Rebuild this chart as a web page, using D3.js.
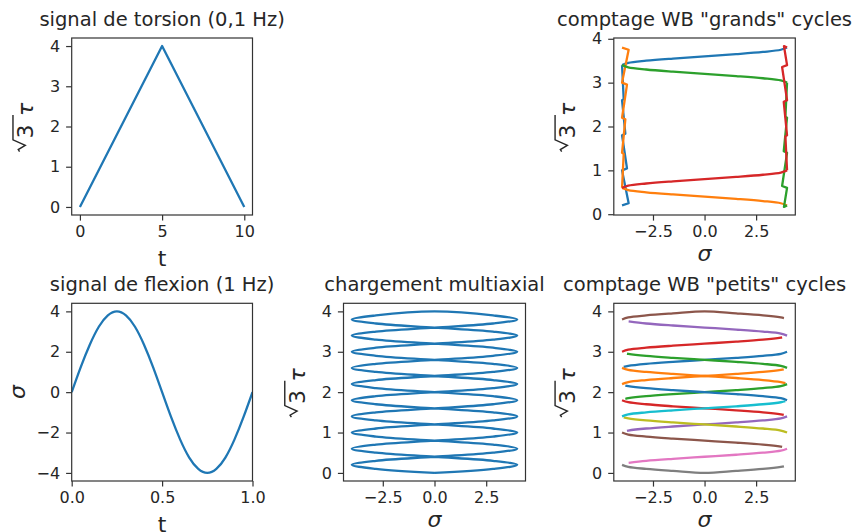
<!DOCTYPE html>
<html><head><meta charset="utf-8">
<script src="https://cdn.jsdelivr.net/npm/d3@7"></script>
<style>
html,body{margin:0;padding:0;background:#fff;}
svg{display:block;font-family:"DejaVu Sans",sans-serif;}
</style></head><body>
<svg id="chart" width="853" height="532"></svg>
<script>
// ---------------- data ----------------
const torsionT = [0, 5, 10];
const torsionTau = [0, 4, 0];

const flexionT = [0,0.05,0.1,0.15,0.2,0.25,0.3,0.35,0.4,0.45,0.5,0.55,0.6,0.65,0.7,0.75,0.8,0.85,0.9,0.95,1];
const flexionSigma = [0,1.24,2.35,3.24,3.8,4,3.8,3.24,2.35,1.24,0,-1.24,-2.35,-3.24,-3.8,-4,-3.8,-3.24,-2.35,-1.24,0];

const multiSigma = [
  0,2.83,4,2.83,0,-2.83,-4,-2.83,
  0,2.83,4,2.83,0,-2.83,-4,-2.83,
  0,2.83,4,2.83,0,-2.83,-4,-2.83,
  0,2.83,4,2.83,0,-2.83,-4,-2.83,
  0,2.83,4,2.83,0,-2.83,-4,-2.83,
  0,2.83,4,2.83,0,-2.83,-4,-2.83,
  0,2.83,4,2.83,0,-2.83,-4,-2.83,
  0,2.83,4,2.83,0,-2.83,-4,-2.83,
  0,2.83,4,2.83,0,-2.83,-4,-2.83,
  0,2.83,4,2.83,0,-2.83,-4,-2.83,
  0];
const multiTau = [
  0,0.1,0.2,0.3,0.4,0.5,0.6,0.7,0.8,0.9,1.0,1.1,1.2,1.3,1.4,1.5,1.6,1.7,1.8,1.9,
  2.0,2.1,2.2,2.3,2.4,2.5,2.6,2.7,2.8,2.9,3.0,3.1,3.2,3.3,3.4,3.5,3.6,3.7,3.8,3.9,
  4.0,
  3.9,3.8,3.7,3.6,3.5,3.4,3.3,3.2,3.1,3.0,2.9,2.8,2.7,2.6,2.5,2.4,2.3,2.2,2.1,2.0,
  1.9,1.8,1.7,1.6,1.5,1.4,1.3,1.2,1.1,1.0,0.9,0.8,0.7,0.6,0.5,0.4,0.3,0.2,0.1,0];

// "grands" cycles: smooth crossing part and jagged edge part, [sigma, sqrt3 tau]
const grandsCrossing = [
  [[4,3.8],[3.7,3.75],[2.83,3.7],[1.53,3.65],[0,3.6],[-1.53,3.55],[-2.83,3.5],[-3.7,3.45],[-4,3.4]],
  [[4,0.2],[3.7,0.25],[2.83,0.3],[1.53,0.35],[0,0.4],[-1.53,0.45],[-2.83,0.5],[-3.7,0.55],[-4,0.6]],
  [[-4,3.4],[-3.7,3.35],[-2.83,3.3],[-1.53,3.25],[0,3.2],[1.53,3.15],[2.83,3.1],[3.7,3.05],[4,3.0]],
  [[-4,0.6],[-3.7,0.65],[-2.83,0.7],[-1.53,0.75],[0,0.8],[1.53,0.85],[2.83,0.9],[3.7,0.95],[4,1.0]]
];
const grandsEdge = [
  [[-4,3.4],[-3.92,2.625],[-4,2.6],[-3.84,1.836],[-4,1.8],[-3.76,1.044],[-4,1.0],[-3.68,0.25],[-4,0.2]],
  [[-4,0.6],[-3.92,1.375],[-4,1.4],[-3.84,2.164],[-4,2.2],[-3.76,2.956],[-4,3.0],[-3.68,3.75],[-4,3.8]],
  [[4,3.0],[3.92,2.225],[4,2.2],[3.84,1.436],[4,1.4],[3.76,0.644],[4,0.6],[3.85,0.165],[4,0.2]],
  [[4,1.0],[3.92,1.775],[4,1.8],[3.84,2.564],[4,2.6],[3.76,3.356],[4,3.4],[3.85,3.835],[4,3.8]]
];

// "petits" cycles, [sigma, sqrt3 tau]
const petitsCurves = [
  [[4,3.0],[3.7,2.95],[2.83,2.9],[1.53,2.85],[0,2.8],[-1.53,2.75],[-2.83,2.7],[-3.7,2.65],[-3.92,2.625]],
  [[-4,2.6],[-3.7,2.55],[-2.83,2.5],[-1.53,2.45],[0,2.4],[1.53,2.35],[2.83,2.3],[3.7,2.25],[3.92,2.225]],
  [[4,2.2],[3.7,2.15],[2.83,2.1],[1.53,2.05],[0,2.0],[-1.53,1.95],[-2.83,1.9],[-3.7,1.85],[-3.84,1.836]],
  [[-4,1.8],[-3.7,1.75],[-2.83,1.7],[-1.53,1.65],[0,1.6],[1.53,1.55],[2.83,1.5],[3.7,1.45],[3.84,1.436]],
  [[4,1.4],[3.7,1.35],[2.83,1.3],[1.53,1.25],[0,1.2],[-1.53,1.15],[-2.83,1.1],[-3.7,1.05],[-3.76,1.044]],
  [[-4,1.0],[-3.7,0.95],[-2.83,0.9],[-1.53,0.85],[0,0.8],[1.53,0.75],[2.83,0.7],[3.7,0.65],[3.76,0.644]],
  [[4,0.6],[3.7,0.55],[2.83,0.5],[1.53,0.45],[0,0.4],[-1.53,0.35],[-2.83,0.3],[-3.68,0.25]],
  [[-4,0.2],[-3.7,0.15],[-2.83,0.1],[-1.53,0.05],[0,0],[1.53,0.05],[2.83,0.1],[3.7,0.15],[3.85,0.165]],
  [[4,1.0],[3.7,1.05],[2.83,1.1],[1.53,1.15],[0,1.2],[-1.53,1.25],[-2.83,1.3],[-3.7,1.35],[-3.92,1.375]],
  [[-4,1.4],[-3.7,1.45],[-2.83,1.5],[-1.53,1.55],[0,1.6],[1.53,1.65],[2.83,1.7],[3.7,1.75],[3.92,1.775]],
  [[4,1.8],[3.7,1.85],[2.83,1.9],[1.53,1.95],[0,2.0],[-1.53,2.05],[-2.83,2.1],[-3.7,2.15],[-3.84,2.164]],
  [[-4,2.2],[-3.7,2.25],[-2.83,2.3],[-1.53,2.35],[0,2.4],[1.53,2.45],[2.83,2.5],[3.7,2.55],[3.84,2.564]],
  [[4,2.6],[3.7,2.65],[2.83,2.7],[1.53,2.75],[0,2.8],[-1.53,2.85],[-2.83,2.9],[-3.7,2.95],[-3.76,2.956]],
  [[-4,3.0],[-3.7,3.05],[-2.83,3.1],[-1.53,3.15],[0,3.2],[1.53,3.25],[2.83,3.3],[3.7,3.35],[3.76,3.356]],
  [[4,3.4],[3.7,3.45],[2.83,3.5],[1.53,3.55],[0,3.6],[-1.53,3.65],[-2.83,3.7],[-3.68,3.75]],
  [[-4,3.8],[-3.7,3.85],[-2.83,3.9],[-1.53,3.95],[0,4.0],[1.53,3.95],[2.83,3.9],[3.7,3.85],[3.85,3.835]]
];

const tab10 = ["#1f77b4","#ff7f0e","#2ca02c","#d62728","#9467bd","#8c564b","#e377c2","#7f7f7f","#bcbd22","#17becf"];

// ticks
const tTicks = [0,5,10], tTickLabels = ["0","5","10"];
const tauTicks = [0,1,2,3,4], tauTickLabels = ["0","1","2","3","4"];
const flexXTicks = [0,0.5,1], flexXTickLabels = ["0.0","0.5","1.0"];
const flexYTicks = [-4,-2,0,2,4], flexYTickLabels = ["\u22124","\u22122","0","2","4"];
const sigTicks = [-2.5,0,2.5], sigTickLabels = ["\u22122.5","0.0","2.5"];

const titles = ["signal de torsion (0,1 Hz)", "comptage WB \"grands\" cycles", "signal de flexion (1 Hz)", "chargement multiaxial", "comptage WB \"petits\" cycles"];

// ---------------- drawing ----------------
const svg = d3.select('#chart');
const TXT = '#262626', AX = '#333';
const TICK_FS = 16, TITLE_FS = 19.5, LABEL_FS = 22, LW = 2.3;
let clipN = 0;

function panel(cfg) {
  const [L, R, T, B] = cfg.box;
  const x = d3.scaleLinear().domain(cfg.xDomain).range([L, R]);
  const y = d3.scaleLinear().domain(cfg.yDomain).range([B, T]);
  const g = svg.append('g');
  const id = 'clip' + (clipN++);
  svg.append('clipPath').attr('id', id).append('rect')
    .attr('x', L).attr('y', T).attr('width', R - L).attr('height', B - T);
  const plot = g.append('g').attr('clip-path', `url(#${id})`);

  const gx = g.append('g').attr('transform', `translate(0,${B})`)
    .call(d3.axisBottom(x).tickValues(cfg.xTicks).tickFormat((d, i) => cfg.xTickLabels[i])
      .tickSizeInner(5.6).tickSizeOuter(0).tickPadding(5.4));
  const gy = g.append('g').attr('transform', `translate(${L},0)`)
    .call(d3.axisLeft(y).tickValues(cfg.yTicks).tickFormat((d, i) => cfg.yTickLabels[i])
      .tickSizeInner(5.6).tickSizeOuter(0).tickPadding(5.9));
  [gx, gy].forEach(a => {
    a.select('.domain').remove();
    a.attr('font-family', '"DejaVu Sans", sans-serif').attr('font-size', TICK_FS);
    a.selectAll('line').attr('stroke', AX).attr('stroke-width', 1.2);
    a.selectAll('text').attr('fill', TXT);
  });

  // title
  g.append('text').attr('x', (L + R) / 2).attr('y', T - 12)
    .attr('text-anchor', 'middle').attr('fill', TXT)
    .style('font-size', TITLE_FS + 'px').text(cfg.title);

  // x label
  if (cfg.xLabel === 't') {
    g.append('text').attr('x', (L + R) / 2).attr('y', B + 50.5)
      .attr('text-anchor', 'middle').attr('fill', TXT)
      .style('font-size', LABEL_FS + 'px').text('t');
  } else {
    g.append('text').attr('x', (L + R) / 2).attr('y', B + 45.5)
      .attr('text-anchor', 'middle').attr('fill', TXT).style('font-style', 'italic')
      .style('font-size', LABEL_FS + 'px').text('\u03C3');
  }

  // y label
  let maxW = 0;
  gy.selectAll('text').each(function () { maxW = Math.max(maxW, this.getComputedTextLength()); });
  const tickLeft = L - 11.5 - maxW;
  const cy = (T + B) / 2;
  if (cfg.yLabel === 'sigma') {
    g.append('text').attr('transform', `translate(${tickLeft - 11.7},${cy}) rotate(-90)`)
      .attr('text-anchor', 'middle').attr('fill', TXT).style('font-style', 'italic')
      .style('font-size', LABEL_FS + 'px').text('\u03C3');
  } else {
    // mathtext-like sqrt(3) tau, rotated
    const em = LABEL_FS;
    const lg = g.append('g').attr('transform', `translate(${tickLeft - 16.8},${cy}) rotate(-90)`);
    const x0 = -1.14 * em;
    lg.append('path')
      .attr('d', `M${x0},${-0.62 * em} L${x0 + 0.09 * em},${-0.68 * em} L${x0 + 0.28 * em},${-0.36 * em} L${x0 + 0.53 * em},${-0.92 * em} L${x0 + 1.66 * em},${-0.92 * em}`)
      .attr('fill', 'none').attr('stroke', TXT).attr('stroke-width', 1.4).attr('stroke-linejoin', 'miter');
    lg.append('text').attr('x', x0 + 0.60 * em).attr('y', 0).attr('fill', TXT)
      .style('font-size', em + 'px').text('3');
    lg.append('text').attr('x', x0 + 1.62 * em).attr('y', 0).attr('fill', TXT)
      .style('font-style', 'italic').style('font-size', em + 'px').text('\u03C4');
  }

  const res = { x, y, plot, g };
  res.finish = () => {
    g.append('rect').attr('x', L).attr('y', T).attr('width', R - L).attr('height', B - T)
      .attr('fill', 'none').attr('stroke', AX).attr('stroke-width', 1.2);
  };
  return res;
}

function drawLine(p, pts, color, curve) {
  const line = d3.line().x(d => p.x(d[0])).y(d => p.y(d[1])).curve(curve || d3.curveLinear);
  p.plot.append('path').attr('d', line(pts)).attr('fill', 'none')
    .attr('stroke', color).attr('stroke-width', LW)
    .attr('stroke-linejoin', 'round').attr('stroke-linecap', 'butt');
}

const col1 = [71.7, 252.5], col2 = [343.5, 525.5], col3 = [613.8, 795.3];
const row1 = [38, 215], row2 = [303.3, 481];

// 1: torsion signal
const p1 = panel({ box: [col1[0], col1[1], row1[0], row1[1]], xDomain: [-0.5, 10.5], yDomain: [-0.2, 4.2],
  xTicks: tTicks, xTickLabels: tTickLabels, yTicks: tauTicks, yTickLabels: tauTickLabels,
  title: titles[0], xLabel: 't', yLabel: 'tau' });
drawLine(p1, torsionT.map((t, i) => [t, torsionTau[i]]), tab10[0]);
p1.finish();

// 2: grands cycles
const p2 = panel({ box: [col3[0], col3[1], row1[0], row1[1]], xDomain: [-4.4, 4.4], yDomain: [-0.018, 4.018],
  xTicks: sigTicks, xTickLabels: sigTickLabels, yTicks: tauTicks, yTickLabels: tauTickLabels,
  title: titles[1], xLabel: 'sigma', yLabel: 'tau' });
grandsCrossing.forEach((c, i) => {
  drawLine(p2, c, tab10[i], d3.curveCatmullRom);
  drawLine(p2, grandsEdge[i], tab10[i]);
});
p2.finish();

// 3: flexion signal
const p3 = panel({ box: [col1[0], col1[1], row2[0], row2[1]], xDomain: [0, 1], yDomain: [-4.4, 4.4],
  xTicks: flexXTicks, xTickLabels: flexXTickLabels, yTicks: flexYTicks, yTickLabels: flexYTickLabels,
  title: titles[2], xLabel: 't', yLabel: 'sigma' });
drawLine(p3, flexionT.map((t, i) => [t, flexionSigma[i]]), tab10[0], d3.curveNatural);
p3.finish();

// 4: multiaxial
const p4 = panel({ box: [col2[0], col2[1], row2[0], row2[1]], xDomain: [-4.4, 4.4], yDomain: [-0.2, 4.2],
  xTicks: sigTicks, xTickLabels: sigTickLabels, yTicks: tauTicks, yTickLabels: tauTickLabels,
  title: titles[3], xLabel: 'sigma', yLabel: 'tau' });
drawLine(p4, multiSigma.map((s, i) => [s, multiTau[i]]), tab10[0], d3.curveCatmullRom);
p4.finish();

// 5: petits cycles
const p5 = panel({ box: [col3[0], col3[1], row2[0], row2[1]], xDomain: [-4.4, 4.4], yDomain: [-0.2, 4.2],
  xTicks: sigTicks, xTickLabels: sigTickLabels, yTicks: tauTicks, yTickLabels: tauTickLabels,
  title: titles[4], xLabel: 'sigma', yLabel: 'tau' });
petitsCurves.forEach((c, i) => drawLine(p5, c, tab10[i % 10], d3.curveCatmullRom));
p5.finish();
</script>
</body></html>
